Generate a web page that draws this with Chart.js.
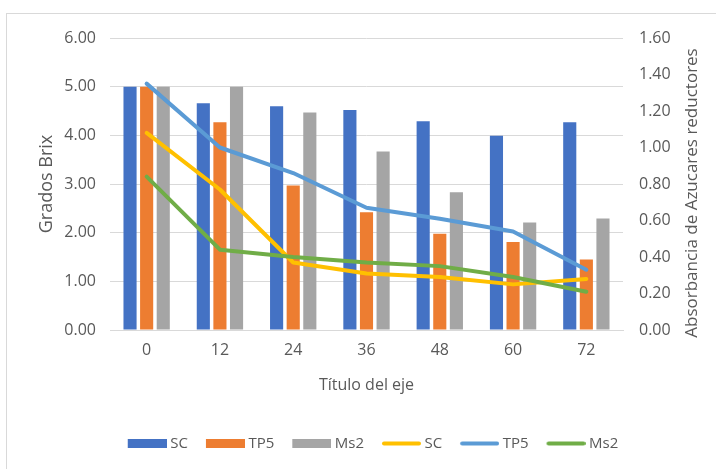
<!DOCTYPE html>
<html>
<head>
<meta charset="utf-8">
<script src="https://cdn.jsdelivr.net/npm/chart.js@4"></script>
<style>
  html, body { margin: 0; padding: 0; background: #ffffff; }
  #wrap { width: 716px; height: 469px; position: relative; }
</style>
</head>
<body>
<div id="wrap"><canvas id="c" width="716" height="469"></canvas></div>
<script>
// Sampling times (hours)
const categories = ['0', '12', '24', '36', '48', '60', '72'];

// Grados Brix (bars, left axis)
const brixSC  = [5.00, 4.66, 4.60, 4.52, 4.29, 3.99, 4.27];
const brixTP5 = [5.00, 4.27, 2.97, 2.42, 1.98, 1.81, 1.45];
const brixMs2 = [5.00, 5.00, 4.47, 3.67, 2.83, 2.21, 2.29];

// Absorbancia de azúcares reductores (lines, right axis)
const absSC  = [1.08, 0.77, 0.37, 0.31, 0.29, 0.25, 0.28];
const absTP5 = [1.35, 1.00, 0.86, 0.67, 0.61, 0.54, 0.33];
const absMs2 = [0.84, 0.44, 0.40, 0.37, 0.35, 0.29, 0.21];

const leftTicks  = [0, 1, 2, 3, 4, 5, 6];
const rightTicks = [0, 0.2, 0.4, 0.6, 0.8, 1.0, 1.2, 1.4, 1.6];

const textColor = '#595959';
const fontFamily = "'Open Sans', 'Liberation Sans', sans-serif";

// Legend swatches: wide blocks for bars, thick rounded strokes for lines.
// The swatch sits at the right of its canvas so the label follows it closely.
function swatch(color, kind) {
  const cv = document.createElement('canvas');
  cv.width = 43; cv.height = kind === 'bar' ? 9 : 5;
  const g = cv.getContext('2d');
  g.fillStyle = color; g.strokeStyle = color;
  if (kind === 'bar') {
    g.fillRect(4, 0, 39, 9);
  } else {
    g.lineWidth = 4; g.lineCap = 'round';
    g.beginPath(); g.moveTo(6, 2.5); g.lineTo(41, 2.5); g.stroke();
  }
  return cv;
}

const barCommon = { type: 'bar', yAxisID: 'y', order: 10, barPercentage: 0.79, categoryPercentage: 0.68 };
const lineCommon = { type: 'line', yAxisID: 'y1', borderWidth: 4, pointRadius: 0, tension: 0,
  borderCapStyle: 'round', borderJoinStyle: 'round', fill: false };

const datasets = [
  Object.assign({ label: 'SC',  data: brixSC,  backgroundColor: '#4472C4' }, barCommon),
  Object.assign({ label: 'TP5', data: brixTP5, backgroundColor: '#ED7D31' }, barCommon),
  Object.assign({ label: 'Ms2', data: brixMs2, backgroundColor: '#A5A5A5' }, barCommon),
  Object.assign({ label: 'SC',  data: absSC,  borderColor: '#FFC000', backgroundColor: '#FFC000', order: 2 }, lineCommon),
  Object.assign({ label: 'TP5', data: absTP5, borderColor: '#5B9BD5', backgroundColor: '#5B9BD5', order: 1 }, lineCommon),
  Object.assign({ label: 'Ms2', data: absMs2, borderColor: '#70AD47', backgroundColor: '#70AD47', order: 0 }, lineCommon)
];

// Outer chart frame and rotated right-hand axis title
const framePlugin = {
  id: 'frame',
  beforeDraw(chart) {
    const ctx = chart.ctx;
    ctx.save();
    ctx.fillStyle = '#ffffff';
    ctx.fillRect(0, 0, chart.width, chart.height);
    ctx.strokeStyle = '#d9d9d9';
    ctx.lineWidth = 1;
    ctx.strokeRect(6.5, 13.5, chart.width + 10, chart.height + 10);
    ctx.restore();
  },
  afterDraw(chart) {
    const ctx = chart.ctx;
    const a = chart.chartArea;
    ctx.save();
    ctx.fillStyle = textColor;
    ctx.font = "17px " + fontFamily;
    ctx.textAlign = 'center';
    ctx.textBaseline = 'middle';
    ctx.translate(a.right + 69, 193);
    ctx.rotate(-Math.PI / 2);
    ctx.fillText('Absorbancia de Azucares reductores', 0, 0);
    ctx.restore();
  }
};

new Chart(document.getElementById('c'), {
  data: { labels: categories, datasets: datasets },
  plugins: [framePlugin],
  options: {
    responsive: false,
    animation: false,
    layout: { padding: { left: 30, right: 0, top: 38, bottom: 8 } },
    plugins: {
      tooltip: { enabled: false },
      legend: {
        position: 'bottom',
        labels: {
          color: textColor,
          font: { family: fontFamily, size: 15 },
          usePointStyle: true,
          pointStyleWidth: 35,
          boxHeight: 9,
          padding: 18,
          sort: (a, b) => a.datasetIndex - b.datasetIndex,
          generateLabels(chart) {
            return chart.data.datasets.map((ds, i) => ({
              text: ds.label,
              fontColor: textColor,
              datasetIndex: i,
              hidden: false,
              lineWidth: 0,
              pointStyle: swatch(ds.type === 'bar' ? ds.backgroundColor : ds.borderColor, ds.type)
            }));
          }
        }
      }
    },
    scales: {
      x: {
        grid: { display: false, drawTicks: false },
        border: { display: true, color: '#d9d9d9' },
        ticks: { color: textColor, font: { family: fontFamily, size: 16 }, padding: 11 },
        title: { display: true, text: 'Título del eje', color: textColor,
                 font: { family: fontFamily, size: 16 }, padding: { top: 4, bottom: 23 } },
        afterFit(scale) { scale.height = 88; }
      },
      y: {
        position: 'left',
        min: 0, max: 6,
        afterBuildTicks(scale) { scale.ticks = leftTicks.map(v => ({ value: v })); },
        grid: { color: '#d9d9d9', drawTicks: false },
        border: { display: false },
        ticks: { color: textColor, font: { family: fontFamily, size: 16 }, padding: 14,
                 callback: v => Number(v).toFixed(2) },
        title: { display: true, text: 'Grados Brix', color: textColor,
                 font: { family: fontFamily, size: 18 }, padding: { top: 6, bottom: 0 } },
        afterFit(scale) { scale.width = 80; }
      },
      y1: {
        position: 'right',
        min: 0, max: 1.6,
        afterBuildTicks(scale) { scale.ticks = rightTicks.map(v => ({ value: v })); },
        grid: { display: false, drawTicks: false },
        border: { display: false },
        ticks: { color: textColor, font: { family: fontFamily, size: 16 }, padding: 16,
                 callback: v => Number(v).toFixed(2) },
        afterFit(scale) { scale.width = 93; }
      }
    }
  }
});
</script>
</body>
</html>
